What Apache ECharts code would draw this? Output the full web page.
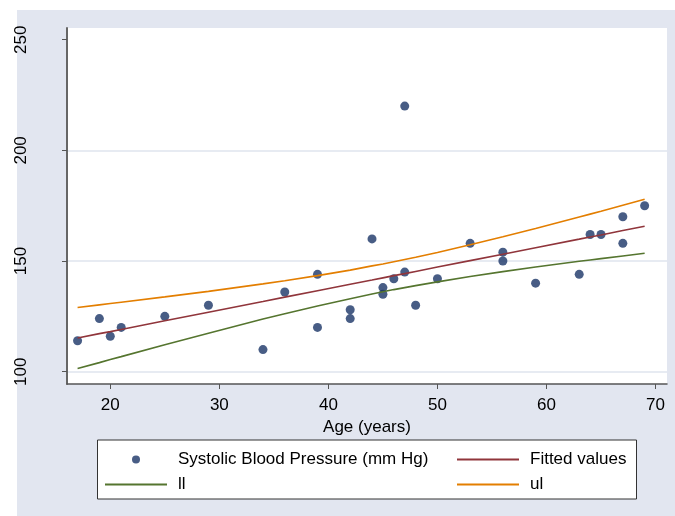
<!DOCTYPE html>
<html lang="en" style="height: 100%">
<head>
  <meta charset="utf-8">
</head>
<body style="height: 100%; margin: 0; background: #fff">
  <div id="container" style="width: 675px; height: 516px"></div>

  <script type="text/javascript" src="https://fastly.jsdelivr.net/npm/echarts@6.0.0/dist/echarts.min.js"></script>
  <script type="text/javascript">
    // observed data: age (years) and systolic blood pressure (mm Hg)
    var ages = [17, 19, 20, 21, 25, 29, 34, 36, 39, 39, 42, 42, 44, 45, 45, 46, 47, 47, 48, 50, 53, 56, 56, 59, 63, 64, 65, 67, 67, 69];
    var sbp = [114, 124, 116, 120, 125, 130, 110, 136, 144, 120, 128, 124, 160, 138, 135, 142, 145, 220, 130, 142, 158, 154, 150, 140, 144, 162, 162, 170, 158, 175];

    // fitted line and bounds, read at each distinct age
    var fitAges = [17, 19, 20, 21, 25, 29, 34, 36, 39, 42, 44, 45, 46, 47, 48, 50, 53, 56, 59, 63, 64, 65, 67, 69];
    var fitted = [115.2, 117.2, 118.1, 119.1, 123.0, 126.9, 131.7, 133.7, 136.6, 139.5, 141.4, 142.4, 143.4, 144.3, 145.3, 147.3, 150.2, 153.1, 156.0, 159.9, 160.9, 161.8, 163.8, 165.7];
    var ll = [101.4, 104.1, 105.5, 106.8, 112.2, 117.4, 123.8, 126.2, 129.7, 133.0, 135.1, 136.1, 137.1, 138.0, 138.9, 140.6, 143.0, 145.2, 147.3, 149.9, 150.5, 151.1, 152.3, 153.5];
    var ul = [129.0, 130.2, 130.8, 131.4, 133.8, 136.3, 139.7, 141.1, 143.4, 145.9, 147.8, 148.7, 149.7, 150.7, 151.7, 153.9, 157.4, 161.0, 164.7, 169.9, 171.2, 172.5, 175.2, 177.9];

    var xTicks = [20, 30, 40, 50, 60, 70];
    var yTicks = [100, 150, 200, 250];

    var FONT = '"Liberation Sans", Arial, sans-serif';

    function pairs(xs, ys) {
      return xs.map(function (x, i) { return [x, ys[i]]; });
    }

    var myChart = echarts.init(document.getElementById('container'), null, { renderer: 'canvas' });

    // one legend per key so the 2x2 layout sits where the original has it
    function legendItem(name, icon, left, top, w, h, pad) {
      return {
        data: [{ name: name, icon: icon }],
        left: left,
        top: top,
        padding: 0,
        itemWidth: w,
        itemHeight: h,
        selectedMode: false,
        textStyle: { fontFamily: FONT, fontSize: 17, color: '#000', padding: [0, 0, 0, pad] }
      };
    }

    var option = {
      animation: false,
      graphic: [
        { type: 'rect', z: -10, shape: { x: 17, y: 10, width: 658, height: 506 }, style: { fill: '#e2e6f0' } },
        { type: 'rect', z: 1, shape: { x: 97.5, y: 440, width: 539, height: 59 }, style: { fill: '#fff', stroke: '#333', lineWidth: 1 } }
      ],
      grid: {
        left: 67, top: 28, right: 8, bottom: 132,
        show: true, backgroundColor: '#fff', borderWidth: 0,
        outerBoundsMode: 'none'
      },
      xAxis: {
        type: 'value',
        min: 16.03,
        max: 71.05,
        name: 'Age (years)',
        nameLocation: 'middle',
        nameGap: 20,
        nameTextStyle: { fontFamily: FONT, fontSize: 17, color: '#000' },
        axisLine: { lineStyle: { color: '#555', width: 1.5 } },
        axisTick: { customValues: xTicks, length: 5, lineStyle: { color: '#555' } },
        axisLabel: { customValues: xTicks, margin: 13, fontFamily: FONT, fontSize: 17, color: '#000' },
        splitLine: { show: false }
      },
      yAxis: {
        type: 'value',
        min: 94.44,
        max: 255.3,
        axisLine: { show: true, lineStyle: { color: '#666', width: 2 } },
        axisTick: { show: true, customValues: yTicks, length: 5, lineStyle: { color: '#555' } },
        axisLabel: { customValues: yTicks, rotate: 90, margin: 37, fontFamily: FONT, fontSize: 17, color: '#000' },
        splitLine: { show: true, lineStyle: { color: ['#dfe4ee', '#dfe4ee', '#dfe4ee', 'rgba(0,0,0,0)'], width: 1.5 } }
      },
      legend: [
        legendItem('Systolic Blood Pressure (mm Hg)', 'circle', 132, 451, 8, 8, 33),
        legendItem('Fitted values', 'rect', 457, 451, 62, 2, 6),
        legendItem('ll', 'rect', 105, 476, 62, 2, 6),
        legendItem('ul', 'rect', 457, 476, 62, 2, 6)
      ],
      series: [
        {
          name: 'Systolic Blood Pressure (mm Hg)',
          type: 'scatter',
          symbol: 'circle',
          symbolSize: 9,
          itemStyle: { color: '#1a3566' },
          data: pairs(ages, sbp)
        },
        {
          name: 'Fitted values',
          type: 'line',
          symbol: 'none',
          lineStyle: { color: '#90353b', width: 1.6 },
          itemStyle: { color: '#90353b' },
          data: pairs(fitAges, fitted)
        },
        {
          name: 'll',
          type: 'line',
          symbol: 'none',
          lineStyle: { color: '#55752f', width: 1.6 },
          itemStyle: { color: '#55752f' },
          data: pairs(fitAges, ll)
        },
        {
          name: 'ul',
          type: 'line',
          symbol: 'none',
          lineStyle: { color: '#e37e00', width: 1.6 },
          itemStyle: { color: '#e37e00' },
          data: pairs(fitAges, ul)
        }
      ]
    };

    myChart.setOption(option);
    window.addEventListener('resize', myChart.resize);
  </script>
</body>
</html>
